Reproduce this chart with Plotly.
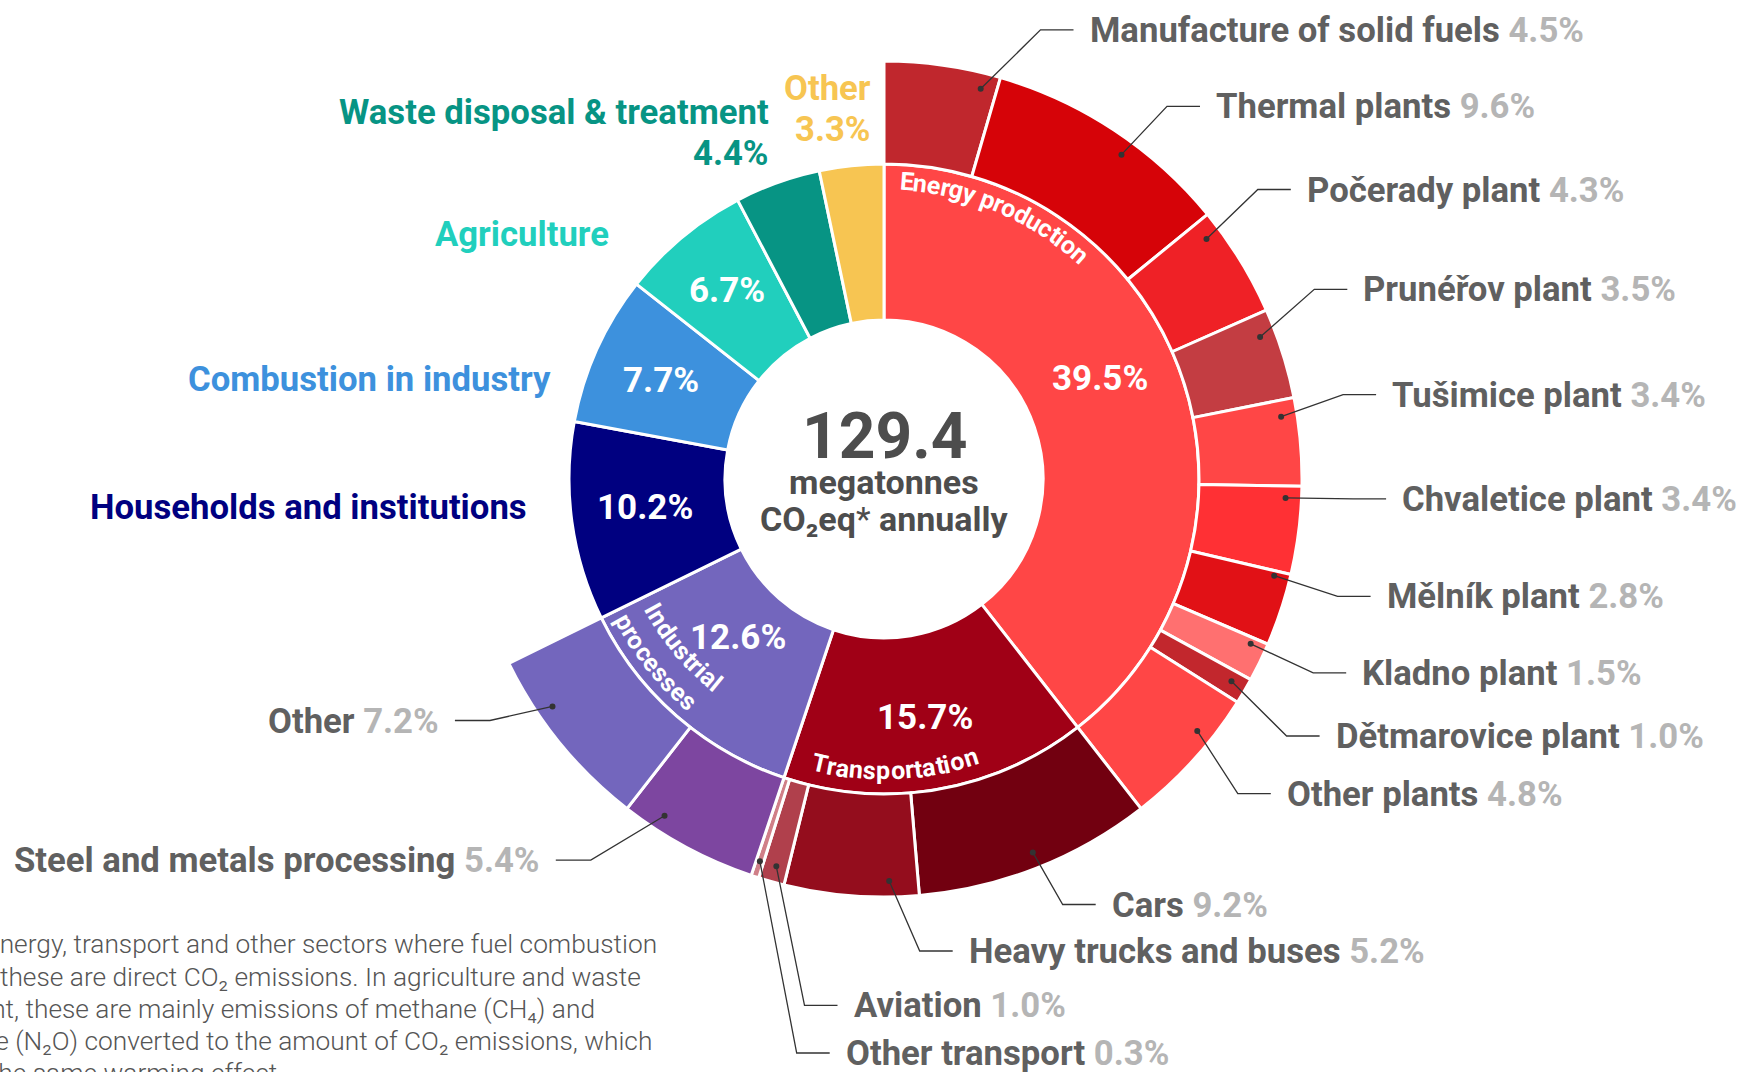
import math
import plotly.graph_objects as go

W, H = 1738, 1072
CX, CY = 884, 479
R_HOLE, R_MID, R_OUT = 159, 315, 418

# ---------------- data ----------------
sectors = ["Energy production", "Transportation", "Industrial processes",
           "Households and institutions", "Combustion in industry", "Agriculture",
           "Waste disposal & treatment", "Other"]
sector_pct = [39.5, 15.7, 12.6, 10.2, 7.7, 6.7, 4.4, 3.3]

energy_subs = ["Manufacture of solid fuels", "Thermal plants", "Počerady plant",
               "Prunéřov plant", "Tušimice plant", "Chvaletice plant", "Mělník plant",
               "Kladno plant", "Dětmarovice plant", "Other plants"]
energy_pct = [4.5, 9.6, 4.3, 3.5, 3.4, 3.4, 2.8, 1.5, 1.0, 4.8]
transport_subs = ["Cars", "Heavy trucks and buses", "Aviation", "Other transport"]
transport_pct = [9.2, 5.2, 1.0, 0.3]
industry_subs = ["Steel and metals processing", "Other"]
industry_pct = [5.4, 7.2]

total_mt = "129.4"

# ---------------- styles ----------------
sector_colors = ["#ff4646", "#a00016", "#7366bd", "#000080", "#3d91dd",
                 "#21cfbd", "#079484", "#f7c552"]
energy_colors = ["#c0272d", "#d60308", "#ef2126", "#c33d42", "#ff4646",
                 "#ff3034", "#e11116", "#ff7070", "#c2272d", "#ff4646"]
transport_colors = ["#720010", "#940d1d", "#b0404c", "#d07f88"]
industry_colors = ["#7d46a0", "#7366bd"]

NAME_COL = "#606060"
PCT_COL = "#b5b5b5"
FONT = "Roboto"
LBL_SIZE = 34.7

# label layout (pixel positions of the label text)
outer_label_x = [1089.5, 1216, 1306.8, 1363.3, 1392.1, 1402.1, 1386.6, 1362.2, 1335.6, 1286.8,
                 1111.7, 968.7, 853.5, 845.7, 539.8, 438.9]
outer_label_y = [29.9, 106.4, 189.5, 289.3, 394.6, 498.8, 596.3, 672.8, 736, 793.6,
                 904.5, 951, 1005.3, 1053, 860.1, 720.5]
outer_label_side = ["r"] * 14 + ["l", "l"]
dot_frac = [.86, .58, .17, .25, .19, .14, .07, .17, .42, .33, .49, .22, .47, .5, .75, .68]
DOT_R = 402


def px2paper(x, y):
    return x / W, 1 - y / H


def polar_px(theta, r):
    t = math.radians(theta)
    return CX + r * math.sin(t), CY - r * math.cos(t)


def domain(r):
    return dict(x=[(CX - r) / W, (CX + r) / W], y=[1 - (CY + r) / H, 1 - (CY - r) / H])


# ---------------- rings ----------------
energy_drawn = energy_pct[:-1] + [sector_pct[0] - sum(energy_pct[:-1])]
outer_vals = energy_drawn + transport_pct + industry_pct + [sum(sector_pct[3:])]
outer_names = energy_subs + transport_subs + industry_subs + [""]
outer_pct_lbl = energy_pct + transport_pct + industry_pct
outer_cols = energy_colors + transport_colors + industry_colors + ["rgba(0,0,0,0)"]
outer_lw = [3] * (len(outer_vals) - 1) + [0]

fig = go.Figure()
fig.add_trace(go.Pie(values=sector_pct, labels=sectors, sort=False, direction="clockwise",
                     rotation=0, hole=R_HOLE / R_MID, domain=domain(R_MID),
                     marker=dict(colors=sector_colors, line=dict(color="white", width=3)),
                     textinfo="none", hoverinfo="skip", showlegend=False))
fig.add_trace(go.Pie(values=outer_vals, labels=[f"o{i}" for i in range(len(outer_vals))],
                     sort=False, direction="clockwise", rotation=0,
                     hole=R_MID / R_OUT, domain=domain(R_OUT),
                     marker=dict(colors=outer_cols, line=dict(color="white", width=outer_lw)),
                     textinfo="none", hoverinfo="skip", showlegend=False))

annotations = []
shapes = []


def ann(x, y, text, size, color, xanchor="center", yanchor="middle", angle=0, weight=700):
    xp, yp = px2paper(x, y)
    annotations.append(dict(x=xp, y=yp, xref="paper", yref="paper", text=text,
                            showarrow=False, xanchor=xanchor, yanchor=yanchor,
                            textangle=angle, borderpad=0, borderwidth=0,
                            font=dict(family=FONT, size=size, color=color, weight=weight)))


# angles of outer slices
tot_o = sum(outer_vals)
cum = 0
o_start, o_end = [], []
for v in outer_vals:
    o_start.append(cum / tot_o * 360)
    cum += v
    o_end.append(cum / tot_o * 360)

for i, name in enumerate(outer_names[:-1]):
    th = o_start[i] + dot_frac[i] * (o_end[i] - o_start[i])
    dx, dy = polar_px(th, DOT_R)
    tx, ty = outer_label_x[i], outer_label_y[i]
    if outer_label_side[i] == "r":
        end = tx - 16
        elbow = end - 33
        xa = "left"
    else:
        end = tx + 16
        elbow = end + 35
        xa = "right"
    p = [px2paper(dx, dy), px2paper(elbow, ty), px2paper(end, ty)]
    shapes.append(dict(type="path", xref="paper", yref="paper",
                       path=f"M {p[0][0]},{p[0][1]} L {p[1][0]},{p[1][1]} L {p[2][0]},{p[2][1]}",
                       line=dict(color="#333333", width=1.3)))
    a0 = px2paper(dx - 3, dy + 3)
    a1 = px2paper(dx + 3, dy - 3)
    shapes.append(dict(type="circle", xref="paper", yref="paper", x0=a0[0], y0=a0[1],
                       x1=a1[0], y1=a1[1], fillcolor="#333333", line=dict(width=0)))
    ann(tx, ty, f"{name} <span style='color:{PCT_COL}'>{outer_pct_lbl[i]:.1f}%</span>",
        LBL_SIZE, NAME_COL, xanchor=xa)

# inner ring percentages
tot_i = sum(sector_pct)
cum = 0
i_mid = []
for v in sector_pct:
    i_mid.append((cum + v / 2) / tot_i * 360)
    cum += v
inner_lbl_shift = [-6, 0, 1.5, 1, -0.5, 0]
inner_lbl_r = [238, 242, 216, 241, 244, 245]
for i in range(6):
    x, y = polar_px(i_mid[i] + inner_lbl_shift[i], inner_lbl_r[i])
    ann(x, y, f"{sector_pct[i]:.1f}%", 35, "white")

# outside sector labels
ann(526.5, 506.5, sectors[3], LBL_SIZE, sector_colors[3], xanchor="right")
ann(550.9, 379, sectors[4], LBL_SIZE, sector_colors[4], xanchor="right")
ann(608.5, 233.9, sectors[5], LBL_SIZE, sector_colors[5], xanchor="right")
ann(769.2, 112, sectors[6], LBL_SIZE, sector_colors[6], xanchor="right")
ann(769.2, 153, f"{sector_pct[6]:.1f}%", LBL_SIZE, sector_colors[6], xanchor="right")
ann(871.2, 87.6, sectors[7], LBL_SIZE, sector_colors[7], xanchor="right")
ann(871.2, 128.6, f"{sector_pct[7]:.1f}%", LBL_SIZE, sector_colors[7], xanchor="right")

# center text
ann(CX, 436, total_mt, 64, "#4d4d4d")
ann(CX, 482, "megatonnes", 34, "#4d4d4d")
ann(CX, 519, "CO₂eq<span style='font-weight:400'>*</span> annually", 34, "#4d4d4d")

# curved sector names
CW = {' ': .25, 'E': .53, 'n': .56, 'e': .54, 'r': .35, 'g': .57, 'y': .50, 'p': .57,
      'o': .57, 'd': .57, 'u': .56, 'c': .53, 't': .34, 'i': .26, 'T': .61, 'a': .55,
      's': .52, 'I': .28, 'l': .26}


def curved(text, theta_c, r, size, reverse):
    widths = [CW.get(c, .55) * size for c in text]
    total = sum(widths)
    span = total / r * 180 / math.pi
    acc = 0
    for c, w in zip(text, widths):
        s = (acc + w / 2) / total
        acc += w
        if c == " ":
            continue
        if not reverse:
            th = theta_c - span / 2 + s * span
            rot = th
        else:
            th = theta_c + span / 2 - s * span
            rot = th - 180
        x, y = polar_px(th, r)
        ann(x, y, c, size, "white", angle=rot, weight=700)


curved(sectors[0], 22.8, 298, 25, False)
curved(sectors[1], 177.8, 292, 25, True)
curved("Industrial", 230.0, 265, 25, True)
curved("processes", 231.3, 296, 25, True)

# footnote (cut at the left edge)
foot = ["*In energy, transport and other sectors where fuel combustion",
        "occurs, these are direct CO₂ emissions. In agriculture and waste",
        "treatment, these are mainly emissions of methane (CH₄) and",
        "nitrous oxide (N₂O) converted to the amount of CO₂ emissions, which",
        "would have the same warming effect."]
foot_right = [657.3, 640.7, 595.2, 651.7, 283.7]
foot_y = [944.3, 976.5, 1008.6, 1040.8, 1073]
for t, xr, y in zip(foot, foot_right, foot_y):
    ann(xr, y, t, 26.3, "#555555", xanchor="right", weight=300)

fig.update_layout(width=W, height=H, margin=dict(l=0, r=0, t=0, b=0),
                  paper_bgcolor="white", plot_bgcolor="white", showlegend=False,
                  annotations=annotations, shapes=shapes)
fig.write_html("out.html")
